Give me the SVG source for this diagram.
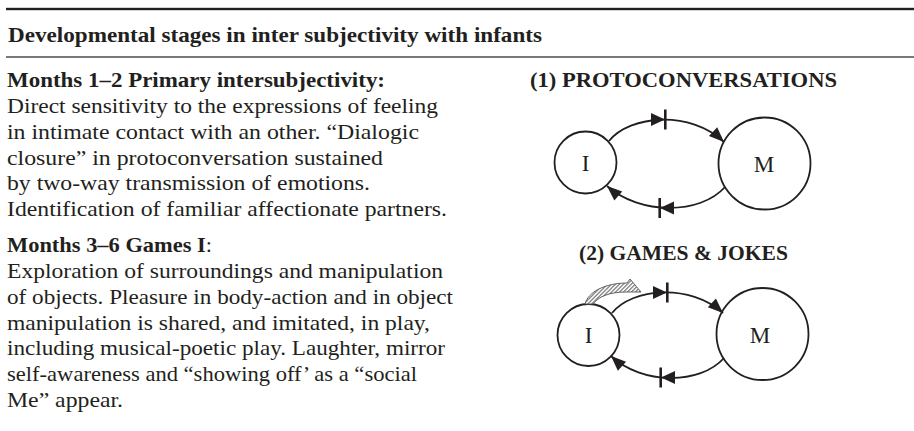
<svg xmlns="http://www.w3.org/2000/svg" width="914" height="431" viewBox="0 0 914 431">
  <defs>
    <style>
      text { font-family: "Liberation Serif", "Times New Roman", Times, serif; fill: #231f20; }
      .b { font-weight: bold; }
      .body { font-size: 21.5px; }
      .head { font-size: 21.5px; font-weight: bold; text-anchor: middle; }
      .lbl { font-size: 23px; text-anchor: middle; }
      .node { fill: #fff; stroke: #231f20; stroke-width: 1.8; }
      .arc { fill: none; stroke: #231f20; stroke-width: 1.8; marker-end: url(#head); }
      .tick { fill: #231f20; }
    </style>
    <marker id="head" markerUnits="userSpaceOnUse" markerWidth="20" markerHeight="20" refX="0" refY="0" orient="auto" overflow="visible">
      <path d="M0,0 L-15,-6 L-15,6 Z" fill="#231f20"/>
    </marker>
    <pattern id="hatch" patternUnits="userSpaceOnUse" width="2.8" height="2.8" patternTransform="rotate(45)">
      <rect width="2.8" height="2.8" fill="#fff"/>
      <line x1="0.6" y1="0" x2="0.6" y2="2.8" stroke="#555" stroke-width="1"/>
    </pattern>
    <!-- triangle with a bar at its tip, pointing right -->
    <g id="gate-r">
      <path d="M-8,-6.5 L6,0 L-8,6.5 Z" class="tick"/>
      <rect x="5" y="-10" width="2.6" height="20" class="tick"/>
    </g>
    <!-- bar followed by a triangle, pointing left -->
    <g id="gate-l">
      <rect x="-7.6" y="-10" width="2.6" height="20" class="tick"/>
      <path d="M8,-6.5 L-6,0 L8,6.5 Z" class="tick"/>
    </g>
  </defs>

  <!-- table rules -->
  <rect x="6" y="7.8" width="908" height="2.4" fill="#231f20"/>
  <rect x="6" y="56.4" width="908" height="1.2" fill="#231f20"/>

  <text x="8" y="42" class="body b" textLength="534" lengthAdjust="spacingAndGlyphs">Developmental stages in inter subjectivity with infants</text>

  <!-- stage 1 description -->
  <g id="stage1-text" class="body">
    <text x="7" y="87" class="b" textLength="378" lengthAdjust="spacingAndGlyphs">Months 1–2 Primary intersubjectivity:</text>
    <text x="7" y="113" textLength="431" lengthAdjust="spacingAndGlyphs">Direct sensitivity to the expressions of feeling</text>
    <text x="7" y="139" textLength="412" lengthAdjust="spacingAndGlyphs">in intimate contact with an other. “Dialogic</text>
    <text x="7" y="165" textLength="376" lengthAdjust="spacingAndGlyphs">closure” in protoconversation sustained</text>
    <text x="7" y="190" textLength="363" lengthAdjust="spacingAndGlyphs">by two-way transmission of emotions.</text>
    <text x="7" y="216" textLength="440" lengthAdjust="spacingAndGlyphs">Identification of familiar affectionate partners.</text>
  </g>

  <!-- stage 2 description -->
  <g id="stage2-text" class="body">
    <text x="7" y="252" textLength="205" lengthAdjust="spacingAndGlyphs"><tspan class="b">Months 3–6 Games I</tspan>:</text>
    <text x="7" y="278" textLength="436" lengthAdjust="spacingAndGlyphs">Exploration of surroundings and manipulation</text>
    <text x="7" y="304" textLength="446" lengthAdjust="spacingAndGlyphs">of objects. Pleasure in body-action and in object</text>
    <text x="7" y="330" textLength="423" lengthAdjust="spacingAndGlyphs">manipulation is shared, and imitated, in play,</text>
    <text x="7" y="355" textLength="438" lengthAdjust="spacingAndGlyphs">including musical-poetic play. Laughter, mirror</text>
    <text x="7" y="381" textLength="410" lengthAdjust="spacingAndGlyphs">self-awareness and “showing off’ as a “social</text>
    <text x="7" y="407" textLength="116" lengthAdjust="spacingAndGlyphs">Me” appear.</text>
  </g>

  <!-- diagram headings -->
  <text x="683.5" y="87" class="head" textLength="307" lengthAdjust="spacingAndGlyphs">(1) PROTOCONVERSATIONS</text>
  <text x="683.5" y="260" class="head" textLength="209" lengthAdjust="spacingAndGlyphs">(2) GAMES &amp; JOKES</text>

  <!-- diagram 1 nodes -->
  <g id="node-I1">
    <circle cx="585.5" cy="162.5" r="31" class="node"/>
    <text x="585.5" y="170.5" class="lbl">I</text>
  </g>
  <g id="node-M1">
    <circle cx="764.5" cy="163.5" r="46" class="node"/>
    <text x="764" y="172" class="lbl">M</text>
  </g>

  <!-- diagram 2 nodes -->
  <g id="node-I2">
    <circle cx="588.5" cy="335" r="31" class="node"/>
    <text x="588.5" y="343" class="lbl">I</text>
  </g>
  <g id="node-M2">
    <circle cx="762.5" cy="334" r="46" class="node"/>
    <text x="760" y="343" class="lbl">M</text>
  </g>

  <!-- connectors -->
  <g id="connectors">
    <path class="arc" d="M609,141 C630,115 690,110 724,142"/>
    <use href="#gate-r" x="659" y="119.5"/>
    <path class="arc" d="M725,187 C700,215 640,215 607,186"/>
    <use href="#gate-l" x="666" y="208"/>

    <path class="arc" d="M612,313 C632,288 690,283 723,313"/>
    <use href="#gate-r" x="661" y="292.5"/>
    <path class="arc" d="M724,358 C700,385 642,385 611,356"/>
    <use href="#gate-l" x="667" y="377.5"/>

    <!-- hatched self-directed arrow -->
    <path d="M585,304 C588,292 605,283 627,283 L630,279 L641,292 L626,292 C609,292 598,297 593,304 Z" fill="url(#hatch)" stroke="#555" stroke-width="0.9" stroke-linejoin="round"/>
  </g>
</svg>
